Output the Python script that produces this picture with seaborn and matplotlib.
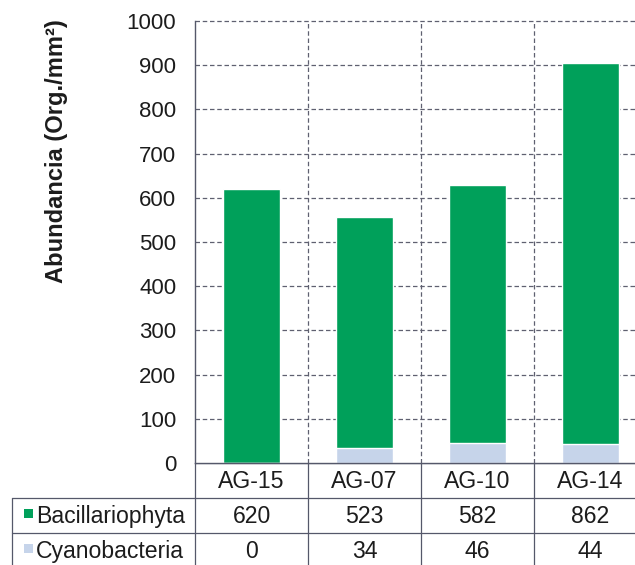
import matplotlib
matplotlib.use("Agg")
import matplotlib.pyplot as plt
import matplotlib.transforms as mtransforms
from matplotlib.patches import Rectangle
import seaborn as sns
import pandas as pd

# Abundance per sampling site, stacked by group
sites = ["AG-15", "AG-07", "AG-10", "AG-14"]
bacillariophyta = [620, 523, 582, 862]
cyanobacteria = [0, 34, 46, 44]
series_names = ["Bacillariophyta", "Cyanobacteria"]
y_ticks = [0, 100, 200, 300, 400, 500, 600, 700, 800, 900, 1000]
y_label = "Abundancia (Org./mm²)"

GREEN = "#00A05A"
BLUE = "#C6D4EA"
TEXT = "#1c1c1c"
GRID = "#5f6070"
LINE = "#55586a"

sns.set_theme(style="white")
plt.rcParams["font.family"] = ["Liberation Sans", "DejaVu Sans"]

W, H = 635, 565
fig = plt.figure(figsize=(W / 100, H / 100), dpi=100)

# layout in pixels
left, zero_y, top_y = 195, 463, 21
cat_w = 113
right = left + len(sites) * cat_w
row_edges = [463, 498, 533, 567]

ax = fig.add_axes([left / W, 1 - zero_y / H, (right - left) / W, (zero_y - top_y) / H])

df = pd.DataFrame({
    "site": sites,
    "total": [b + c for b, c in zip(bacillariophyta, cyanobacteria)],
    "cyano": cyanobacteria,
})

# stacked bars: full height in green, the lower segment overdrawn in light blue
sns.barplot(data=df, x="site", y="total", color=GREEN, width=0.5,
            saturation=1, ax=ax, zorder=3)
sns.barplot(data=df, x="site", y="cyano", color=BLUE, width=0.5,
            saturation=1, ax=ax, zorder=4)

n = len(sites)
ax.set_xlim(-0.5, n - 0.5)
ax.set_ylim(y_ticks[0], y_ticks[-1])
ax.set_yticks(y_ticks)
ax.set_yticklabels([str(t) for t in y_ticks], fontsize=16, color=TEXT)
ax.tick_params(axis="y", length=0, pad=13.5)
ax.set_xticks([])
ax.set_xlabel("")
ax.set_ylabel("")

dash = (0, (3.6, 2.2))
for t in y_ticks[1:]:
    ax.axhline(t, color=GRID, lw=0.9, ls=dash, zorder=1, clip_on=False)
for i in range(1, n + 1):
    ax.axvline(i - 0.5, color=GRID, lw=0.9, ls=dash, zorder=1, clip_on=False)

for s in ["top", "right"]:
    ax.spines[s].set_visible(False)
ax.spines["left"].set_color(LINE)
ax.spines["left"].set_linewidth(1.0)
ax.spines["bottom"].set_color(LINE)
ax.spines["bottom"].set_linewidth(1.0)
ax.spines["left"].set_zorder(5)
ax.spines["bottom"].set_zorder(5)

fig.text(56 / W, 1 - 151 / H, y_label, rotation=90, ha="center", va="center",
         fontsize=17.1, fontweight="bold", color=TEXT)

# data table under the plot, in pixel coordinates
tab = fig.add_axes([0, 0, 1, 1], zorder=-1)
tab.set_xlim(0, W)
tab.set_ylim(H, 0)
tab.axis("off")

lw = 0.9
tab.plot([left, right], [row_edges[0]] * 2, color=LINE, lw=lw)
for y in row_edges[1:3]:
    tab.plot([12, right], [y, y], color=LINE, lw=lw)
tab.plot([12, 12], [row_edges[1], row_edges[3]], color=LINE, lw=lw)
tab.plot([left, left], [row_edges[0], row_edges[3]], color=LINE, lw=lw)

blend = mtransforms.blended_transform_factory(ax.transData, tab.transData)
for i in range(1, n):
    tab.plot([i - 0.5, i - 0.5], [row_edges[0], row_edges[3]], color=LINE,
             lw=lw, transform=blend)

fs = 16.6
baselines = [488, 523, 558]
for i, site in enumerate(sites):
    tab.text(i, baselines[0], site, transform=blend, ha="center",
             va="baseline", fontsize=fs, color=TEXT)
    tab.text(i, baselines[1], str(bacillariophyta[i]), transform=blend,
             ha="center", va="baseline", fontsize=fs, color=TEXT)
    tab.text(i, baselines[2], str(cyanobacteria[i]), transform=blend,
             ha="center", va="baseline", fontsize=fs, color=TEXT)

for name, color, base in zip(series_names, [GREEN, BLUE], baselines[1:]):
    tab.add_patch(Rectangle((24, base - 14), 9, 9, color=color, lw=0))
    tab.text(36, base, name, ha="left", va="baseline", fontsize=fs, color=TEXT)

fig.savefig("out.png", dpi=100)
